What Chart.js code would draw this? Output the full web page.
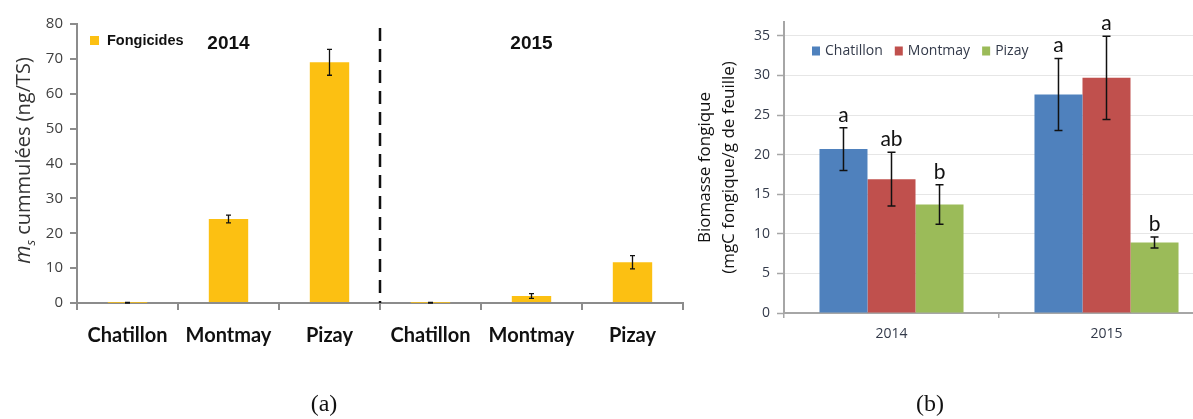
<!DOCTYPE html>
<html>
<head>
<meta charset="utf-8">
<script src="https://cdn.jsdelivr.net/npm/chart.js@4.4.0/dist/chart.umd.min.js"></script>
<style>
  html, body { margin: 0; padding: 0; background: #fff; overflow: hidden; width: 1193px; height: 419px; }
  #wrapA { position: absolute; left: 0; top: 0; width: 700px; height: 419px; }
  #wrapB { position: absolute; left: 690px; top: 0; width: 560px; height: 419px; }
  .cap { position: absolute; top: 389px; line-height: 28px; font-family: "Liberation Serif", "DejaVu Serif", serif;
         font-size: 24px; color: #111; transform: translateX(-50%); }
</style>
</head>
<body>
<div id="wrapA"><canvas id="chartA" width="700" height="419"></canvas></div>
<div id="wrapB"><canvas id="chartB" width="560" height="419"></canvas></div>
<div class="cap" style="left:324px">(a)</div>
<div class="cap" style="left:930px">(b)</div>

<script>
// ---- data ----
const years = ['2014', '2015'];
const sites = ['Chatillon', 'Montmay', 'Pizay'];

// (a) cumulated fungicide mass, sites repeated for each year
const siteLabelsA = ['Chatillon', 'Montmay', 'Pizay', 'Chatillon', 'Montmay', 'Pizay'];
const fongicides    = [0.1, 24.1, 69.0, 0.1, 2.0, 11.7];
const fongicidesErr = [0.1, 1.1, 3.7, 0.1, 0.7, 1.9];

// (b) fungal biomass per site and year
const biomChatillon    = [20.7, 27.6];
const biomChatillonErr = [2.7, 4.55];
const biomMontmay      = [16.9, 29.7];
const biomMontmayErr   = [3.4, 5.25];
const biomPizay        = [13.7, 8.9];
const biomPizayErr     = [2.5, 0.7];
const lettersChatillon = ['a', 'a'];
const lettersMontmay   = ['ab', 'a'];
const lettersPizay     = ['b', 'b'];

// ---- shared plugins ----
const errorBarPlugin = {
  id: 'errorBars',
  afterDatasetsDraw(chart, args, opts) {
    const ctx = chart.ctx;
    ctx.save();
    ctx.strokeStyle = opts.color || '#111';
    ctx.lineWidth = opts.lineWidth || 1.5;
    chart.data.datasets.forEach((ds, di) => {
      if (!ds.errors) return;
      const meta = chart.getDatasetMeta(di);
      const yScale = chart.scales[meta.yAxisID];
      meta.data.forEach((bar, i) => {
        const v = ds.data[i], e = ds.errors[i];
        const x = bar.x;
        const yHi = yScale.getPixelForValue(v + e);
        const yLo = yScale.getPixelForValue(Math.max(0, v - e));
        const c = opts.capHalf || 4;
        ctx.beginPath();
        ctx.moveTo(x, yHi); ctx.lineTo(x, yLo);
        ctx.moveTo(x - c, yHi); ctx.lineTo(x + c, yHi);
        ctx.moveTo(x - c, yLo); ctx.lineTo(x + c, yLo);
        ctx.stroke();
        if (ds.letters) {
          ctx.fillStyle = '#111';
          ctx.font = opts.letterFont || '20px Lato';
          ctx.textAlign = 'center';
          ctx.textBaseline = 'alphabetic';
          ctx.fillText(ds.letters[i], x, yHi - 6);
        }
      });
    });
    ctx.restore();
  }
};

// ---- chart (a) ----
const decorA = {
  id: 'decorA',
  afterDraw(chart) {
    const ctx = chart.ctx;
    const xs = chart.scales.x;
    const area = chart.chartArea;
    ctx.save();

    // dashed separator between the two years
    const xSep = (xs.getPixelForValue(2) + xs.getPixelForValue(3)) / 2;
    ctx.strokeStyle = '#111';
    ctx.lineWidth = 2.5;
    ctx.setLineDash([13, 8]);
    ctx.beginPath();
    ctx.moveTo(xSep, 28);
    ctx.lineTo(xSep, area.bottom);
    ctx.stroke();
    ctx.setLineDash([]);

    // year headings
    ctx.fillStyle = '#111';
    ctx.font = 'bold 19px "Liberation Sans", Arial, sans-serif';
    ctx.textAlign = 'center';
    ctx.textBaseline = 'middle';
    ctx.fillText(years[0], xs.getPixelForValue(1), 44);
    ctx.fillText(years[1], xs.getPixelForValue(4), 44);

    // legend
    const ds = chart.data.datasets[0];
    ctx.fillStyle = ds.backgroundColor;
    ctx.fillRect(90, 36, 9, 9);
    ctx.fillStyle = '#111';
    ctx.font = 'bold 14.5px "Liberation Sans", Arial, sans-serif';
    ctx.textAlign = 'left';
    ctx.fillText(ds.label, 107, 41);

    // y axis title: m_s cummulées (ng/TS)
    const cx = 24, cy = (area.top + area.bottom) / 2 - 3;
    ctx.translate(cx, cy);
    ctx.rotate(-Math.PI / 2);
    const fM = 'italic 21px "Open Sans", sans-serif';
    const fS = 'italic 13px "Open Sans", sans-serif';
    const fR = '20px "Open Sans", sans-serif';
    const rest = ' cummulées (ng/TS)';
    ctx.font = fM; const wM = ctx.measureText('m').width;
    ctx.font = fS; const wS = ctx.measureText('s').width;
    ctx.font = fR; const wR = ctx.measureText(rest).width;
    let x0 = -(wM + wS + wR) / 2;
    ctx.fillStyle = '#333';
    ctx.textAlign = 'left';
    ctx.textBaseline = 'middle';
    ctx.font = fM; ctx.fillText('m', x0, 0); x0 += wM;
    ctx.font = fS; ctx.fillText('s', x0, 7); x0 += wS;
    ctx.font = fR; ctx.fillText(rest, x0, 0);
    ctx.restore();
  }
};

new Chart(document.getElementById('chartA'), {
  type: 'bar',
  data: {
    labels: siteLabelsA,
    datasets: [{
      label: 'Fongicides',
      data: fongicides,
      errors: fongicidesErr,
      backgroundColor: '#FCC012',
      categoryPercentage: 1,
      barPercentage: 0.39
    }]
  },
  options: {
    responsive: false,
    animation: false,
    devicePixelRatio: 1,
    layout: { padding: { left: 0, right: 17, top: 24, bottom: 0 } },
    plugins: {
      legend: { display: false },
      tooltip: { enabled: false },
      errorBars: { lineWidth: 1.3, capHalf: 2.5, color: '#111' }
    },
    scales: {
      x: {
        grid: { drawOnChartArea: false, offset: true, tickLength: 7, color: '#8c8c8c', lineWidth: 2 },
        border: { color: '#8c8c8c', width: 2 },
        ticks: { font: { family: 'Lato', weight: 'bold', size: 20 }, color: '#111', padding: 14, maxRotation: 0 },
        afterFit: s => { s.height = 116; }
      },
      y: {
        min: 0, max: 80,
        ticks: { stepSize: 10, font: { family: 'Open Sans', size: 15 }, color: '#404040', padding: 7 },
        grid: { drawOnChartArea: false, tickLength: 7, color: '#8c8c8c', lineWidth: 2 },
        border: { color: '#8c8c8c', width: 2 },
        afterFit: s => { s.width = 77; }
      }
    }
  },
  plugins: [errorBarPlugin, decorA]
});

// ---- chart (b) ----
const legendB = {
  id: 'legendB',
  afterDraw(chart) {
    const ctx = chart.ctx;
    ctx.save();
    ctx.font = '14px "Open Sans", sans-serif';
    ctx.textBaseline = 'middle';
    ctx.textAlign = 'left';
    let x = 122;
    const y = 51;
    chart.data.datasets.forEach(ds => {
      ctx.fillStyle = ds.backgroundColor;
      ctx.fillRect(x, y - 4.5, 8, 9);
      x += 13;
      ctx.fillStyle = '#333a4a';
      ctx.fillText(ds.label, x, y);
      x += ctx.measureText(ds.label).width + 12;
    });
    ctx.restore();
  }
};

new Chart(document.getElementById('chartB'), {
  type: 'bar',
  data: {
    labels: years,
    datasets: [
      { label: sites[0], data: biomChatillon, errors: biomChatillonErr, letters: lettersChatillon, backgroundColor: '#4F81BD' },
      { label: sites[1], data: biomMontmay,   errors: biomMontmayErr,   letters: lettersMontmay,   backgroundColor: '#C0504D' },
      { label: sites[2], data: biomPizay,     errors: biomPizayErr,     letters: lettersPizay,     backgroundColor: '#9BBB59' }
    ]
  },
  options: {
    responsive: false,
    animation: false,
    devicePixelRatio: 1,
    datasets: { bar: { categoryPercentage: 0.67, barPercentage: 1 } },
    layout: { padding: { left: 0, right: 36, top: 22, bottom: 0 } },
    plugins: {
      legend: { display: false },
      tooltip: { enabled: false },
      errorBars: { lineWidth: 1.5, capHalf: 4, color: '#111', letterFont: '21px Lato' }
    },
    scales: {
      x: {
        grid: { drawOnChartArea: false, offset: true, tickLength: 5, color: '#a6a6a6', lineWidth: 1.5 },
        border: { color: '#a6a6a6', width: 2 },
        ticks: { font: { family: 'Open Sans', size: 14 }, color: '#333a4a', padding: 8, maxRotation: 0 },
        afterFit: s => { s.height = 106; }
      },
      y: {
        min: 0, max: 36.75,
        ticks: { stepSize: 5, includeBounds: false, font: { family: 'Open Sans', size: 14 }, color: '#333a4a', padding: 7 },
        grid: { color: '#e6e6e6', lineWidth: 1, tickLength: 7, tickColor: '#a6a6a6', tickWidth: 1.5 },
        border: { color: '#a6a6a6', width: 2 },
        title: {
          display: true,
          text: ['Biomasse fongique', '(mgC fongique/g de feuille)'],
          font: { family: 'Open Sans', size: 17, lineHeight: 1.41 },
          color: '#111',
          padding: { top: 3, bottom: 0 }
        },
        afterFit: s => { s.width = 94; }
      }
    }
  },
  plugins: [errorBarPlugin, legendB]
});
</script>
</body>
</html>
